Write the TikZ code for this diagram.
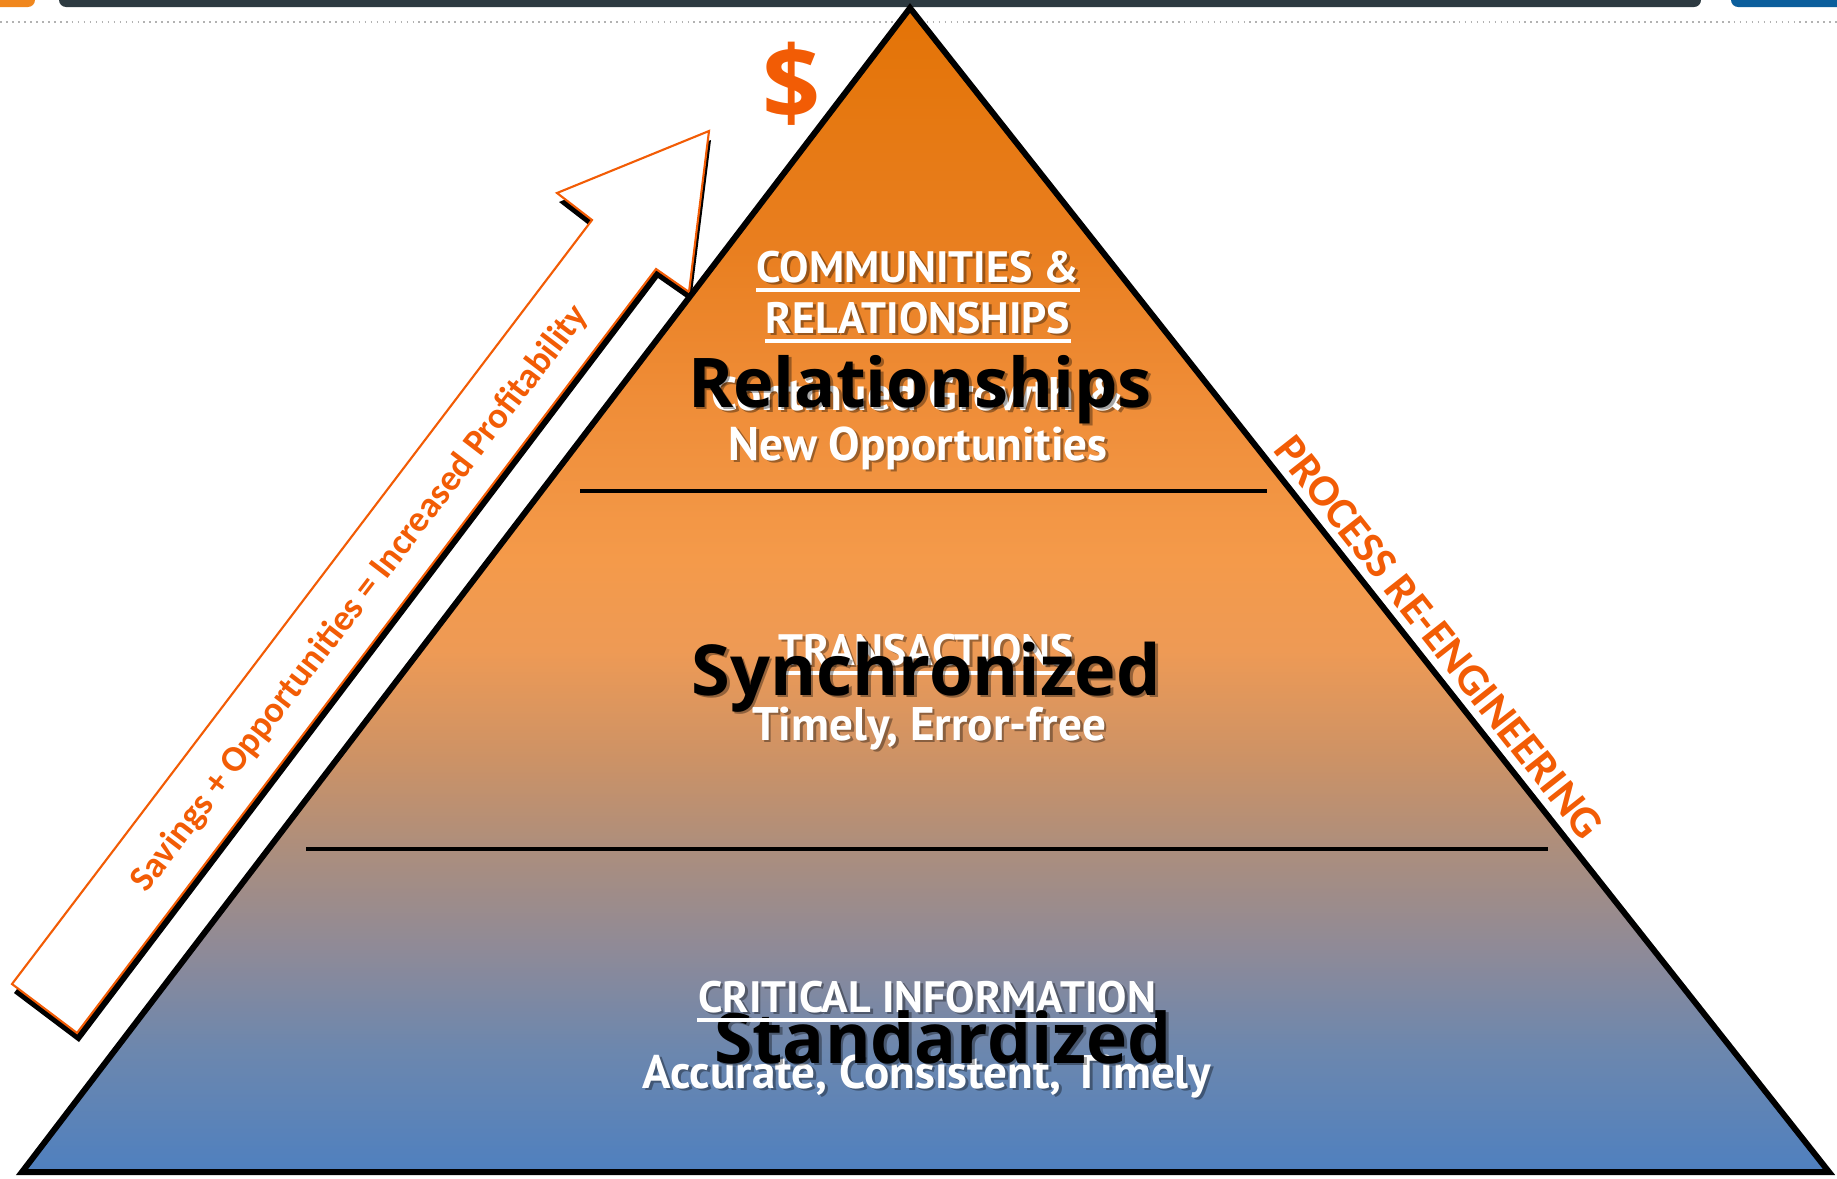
\documentclass[tikz,border=0pt]{standalone}
\usepackage{xcolor}
\usepackage{fontspec}
\setmainfont{PT Sans}
\newfontfamily\wordfont{Open Sans}
\newfontfamily\sidefont{Carlito}
\usetikzlibrary{positioning}

\definecolor{pyrorange}{HTML}{F25C05}
\definecolor{barslate}{HTML}{2D3A41}
\definecolor{barblue}{HTML}{0B5E9C}
\definecolor{barorange}{HTML}{F0871E}
\definecolor{shA}{HTML}{4F80BF}
\definecolor{shB}{HTML}{6C87AE}
\definecolor{shC}{HTML}{8E8A98}
\definecolor{shD}{HTML}{AC8E7D}
\definecolor{shE}{HTML}{CC9266}
\definecolor{shF}{HTML}{EE9A55}
\definecolor{shG}{HTML}{F49A4A}
\definecolor{shH}{HTML}{EF8D38}
\definecolor{shI}{HTML}{E97F20}
\definecolor{shJ}{HTML}{E37306}

\pgfdeclareverticalshading{pyramidfill}{100bp}{color(0bp)=(shA); color(25bp)=(shA);
  color(30.25bp)=(shB); color(34.5bp)=(shC); color(38.85bp)=(shD); color(42.7bp)=(shE);
  color(47.4bp)=(shF); color(51.3bp)=(shG); color(58.15bp)=(shH); color(64.6bp)=(shI);
  color(75bp)=(shJ); color(100bp)=(shJ)}

\tikzset{
  whitehead/.style={text=white, inner sep=0pt, anchor=base, font=\bfseries\fontsize{12.5}{14}\selectfont},
  whitesub/.style={text=white, inner sep=0pt, anchor=base, font=\bfseries\fontsize{13.4}{15}\selectfont},
  blackword/.style={text=black, inner sep=0pt, anchor=base, font=\wordfont\bfseries\fontsize{20}{24}\selectfont},
  sidelabel/.style={text=pyrorange, inner sep=0pt, font=\sidefont\bfseries\fontsize{12.8}{15}\selectfont},
  divider/.style={line width=1.1pt, black},
  underbar/.style={line width=1.1pt, white},
}

% text with a soft drop shadow
\newcommand\shadowlabel[4]{%
  \node[#3, text=black, opacity=0.35, xshift=0.8pt, yshift=-0.8pt] at (#2) {#4};
  \node[#3] (#1) at (#2) {#4};}

\begin{document}
\begin{tikzpicture}[x=0.01cm, y=-0.01cm]
\useasboundingbox (0,0) rectangle (1837,1178);

% top strip
\fill[barorange, rounded corners=2pt] (-10,-10) rectangle (35,7);
\fill[barslate, rounded corners=2pt] (59,-10) rectangle (1701,7);
\fill[barblue, rounded corners=2pt] (1731,-10) rectangle (1847,7);
\draw[gray!60, line width=0.8pt, dash pattern=on 0.5pt off 1.2pt] (0,22) -- (1837,22);

% rising arrow
\fill[black, shift={(2,9)}] (12,984) -- (592,220) -- (557,193) -- (709,131) -- (689,292) -- (656,269) -- (77,1033) -- cycle;
\filldraw[fill=white, draw=pyrorange, line width=0.6pt, line join=miter] (12,984) -- (592,220) -- (557,193) -- (709,131) -- (689,292) -- (656,269) -- (77,1033) -- cycle;
\node[sidelabel, font=\sidefont\bfseries\fontsize{10.4}{12}\selectfont, rotate=52.6] (gain) at (360,599) {Savings + Opportunities = Increased Profitability};

% pyramid
\coordinate (apex) at (910,8);
\coordinate (bl) at (22,1172);
\coordinate (br) at (1829,1172);
\shadedraw[shading=pyramidfill, draw=black, line width=1.7pt] (apex) -- (br) -- (bl) -- cycle;
\draw[divider] (580,491) -- (1267,491);
\draw[divider] (306,849) -- (1548,849);

\node[sidelabel, rotate=-51.7] (reeng) at (1439,637) {PROCESS RE-ENGINEERING};
\node[text=pyrorange, font=\wordfont\bfseries\fontsize{29}{32}\selectfont] (cash) at (792,84) {\$};

% top level
\shadowlabel{comm}{918,282}{whitehead}{COMMUNITIES \&}
\shadowlabel{rel}{918,333}{whitehead}{RELATIONSHIPS}
\shadowlabel{growth}{918,410}{whitesub}{Continued Growth \&}
\shadowlabel{newopp}{918,460}{whitesub}{New Opportunities}
\draw[underbar] ([yshift=-2.2pt]comm.base west) -- ([yshift=-2.2pt]comm.base east);
\draw[underbar] ([yshift=-2.2pt]rel.base west) -- ([yshift=-2.2pt]rel.base east);
\shadowlabel{relword}{920,407}{blackword, font=\wordfont\bfseries\fontsize{19.5}{24}\selectfont}{Relationships}

% middle level
\shadowlabel{trans}{926,665}{whitehead}{TRANSACTIONS}
\draw[underbar] ([yshift=-2.2pt]trans.base west) -- ([yshift=-2.2pt]trans.base east);
\shadowlabel{timely}{929,740}{whitesub}{Timely, Error-free}
\shadowlabel{syncword}{926,695}{blackword}{Synchronized}

% bottom level
\shadowlabel{crit}{927,1012}{whitehead}{CRITICAL INFORMATION}
\shadowlabel{accur}{927,1088}{whitesub}{Accurate, Consistent, Timely}
\shadowlabel{stdword}{943,1063}{blackword, font=\wordfont\bfseries\fontsize{19.8}{23}\selectfont}{Standardized}
\draw[underbar] ([yshift=-2.2pt]crit.base west) -- ([yshift=-2.2pt]crit.base east);
\end{tikzpicture}
\end{document}
